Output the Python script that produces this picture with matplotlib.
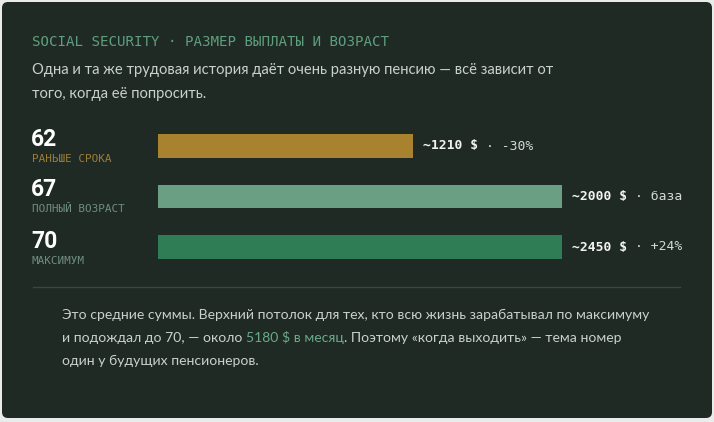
import numpy as np
import matplotlib
matplotlib.use("Agg")
import matplotlib.pyplot as plt
from matplotlib.patches import FancyBboxPatch

# data
AGES = ["62", "67", "70"]
AGE_NOTES = ["РАНЬШЕ СРОКА", "ПОЛНЫЙ ВОЗРАСТ", "МАКСИМУМ"]
PAYOUTS = [1210, 2000, 2450]
PAYOUT_LABELS = ["~1210 $", "~2000 $", "~2450 $"]
CHANGE_LABELS = ["-30%", "база", "+24%"]
SCALE_MAX = 1920  # bars are capped at the track width

TITLE = "SOCIAL SECURITY · РАЗМЕР ВЫПЛАТЫ И ВОЗРАСТ"
SUBTITLE = ["Одна и та же трудовая история даёт очень разную пенсию — всё зависит от",
            "того, когда её попросить."]
NOTE_LINE1 = "Это средние суммы. Верхний потолок для тех, кто всю жизнь зарабатывал по максимуму"
NOTE_LINE2 = ["и подождал до 70, — около", "5180 $ в месяц", ". Поэтому «когда выходить» — тема номер"]
NOTE_LINE3 = "один у будущих пенсионеров."

BG = "#e9ecea"
CARD = "#1f2a25"
BAR_COLORS = ["#a8822f", "#6a9f84", "#2e7d55"]
NOTE_COLORS = ["#9c7d36", "#6f8e7e", "#6f8e7e"]
TEXT = "#c9d1cc"
GREEN = "#5f9e7e"
MONO = "DejaVu Sans Mono"
SANS = "Lato"

W, H = 714, 422
fig = plt.figure(figsize=(W / 100, H / 100), dpi=100, facecolor=BG)

# background axes in pixel coordinates
bg = fig.add_axes([0, 0, 1, 1])
bg.set_xlim(0, W)
bg.set_ylim(H, 0)
bg.axis("off")
bg.add_patch(FancyBboxPatch((2, 2), 710, 416, boxstyle="round,pad=0,rounding_size=6",
                            fc=CARD, ec="none"))

bg.text(32, 42, TITLE, color=GREEN, family=MONO, fontsize=10.2, va="center")
bg.text(32, 70, SUBTITLE[0], color=TEXT, family=SANS, fontsize=10.6, va="center")
bg.text(32, 94, SUBTITLE[1], color=TEXT, family=SANS, fontsize=10.6, va="center")

row_y = [140, 190, 241]
for y, age, note, c in zip(row_y, AGES, AGE_NOTES, NOTE_COLORS):
    bg.text(31, y, age, color="white", family="Roboto", fontweight="bold",
            fontsize=16.5, va="center")
    bg.text(32, y + 19.5, note, color=c, family=MONO, fontsize=7.9, va="center")

bg.plot([33, 680], [287, 287], color="#3a4640", lw=1)

# bars
top, bottom = 120.75, 272.25
ax = fig.add_axes([158 / W, 1 - bottom / H, 404 / W, (bottom - top) / H])
ax.set_xlim(0, SCALE_MAX)
ax.set_ylim(2.5, -0.5)
ax.axis("off")
lengths = np.minimum(PAYOUTS, SCALE_MAX)
ypos = np.arange(len(PAYOUTS))
ax.barh(ypos, lengths, height=0.46, color=BAR_COLORS)
for i, (L, lab, chg) in enumerate(zip(lengths, PAYOUT_LABELS, CHANGE_LABELS)):
    t1 = ax.annotate(lab, xy=(L, i), xytext=(10, 0), textcoords="offset pixels",
                     color="#f2f4f2", family=MONO, fontweight="bold", fontsize=9.4,
                     va="center", annotation_clip=False)
    ax.annotate("· " + chg, xy=(1, 0), xycoords=t1, xytext=(8, 0),
                textcoords="offset pixels", color="#d5dcd7", family=MONO,
                fontsize=9.4, va="bottom", annotation_clip=False)

# footnote
FS = 10.1
bg.text(62, 315, NOTE_LINE1, color=TEXT, family=SANS, fontsize=FS, va="center")
p1 = bg.text(62, 338, NOTE_LINE2[0], color=TEXT, family=SANS, fontsize=FS, va="center")
p2 = bg.annotate(NOTE_LINE2[1], xy=(1, 0), xycoords=p1, xytext=(4, 0),
                 textcoords="offset pixels", color="#6aaa88", family=SANS,
                 fontsize=FS, va="bottom")
bg.annotate(NOTE_LINE2[2], xy=(1, 0), xycoords=p2, color=TEXT, family=SANS,
            fontsize=FS, va="bottom")
bg.text(62, 361, NOTE_LINE3, color=TEXT, family=SANS, fontsize=FS, va="center")

fig.savefig("out.png", dpi=100, facecolor=BG)
